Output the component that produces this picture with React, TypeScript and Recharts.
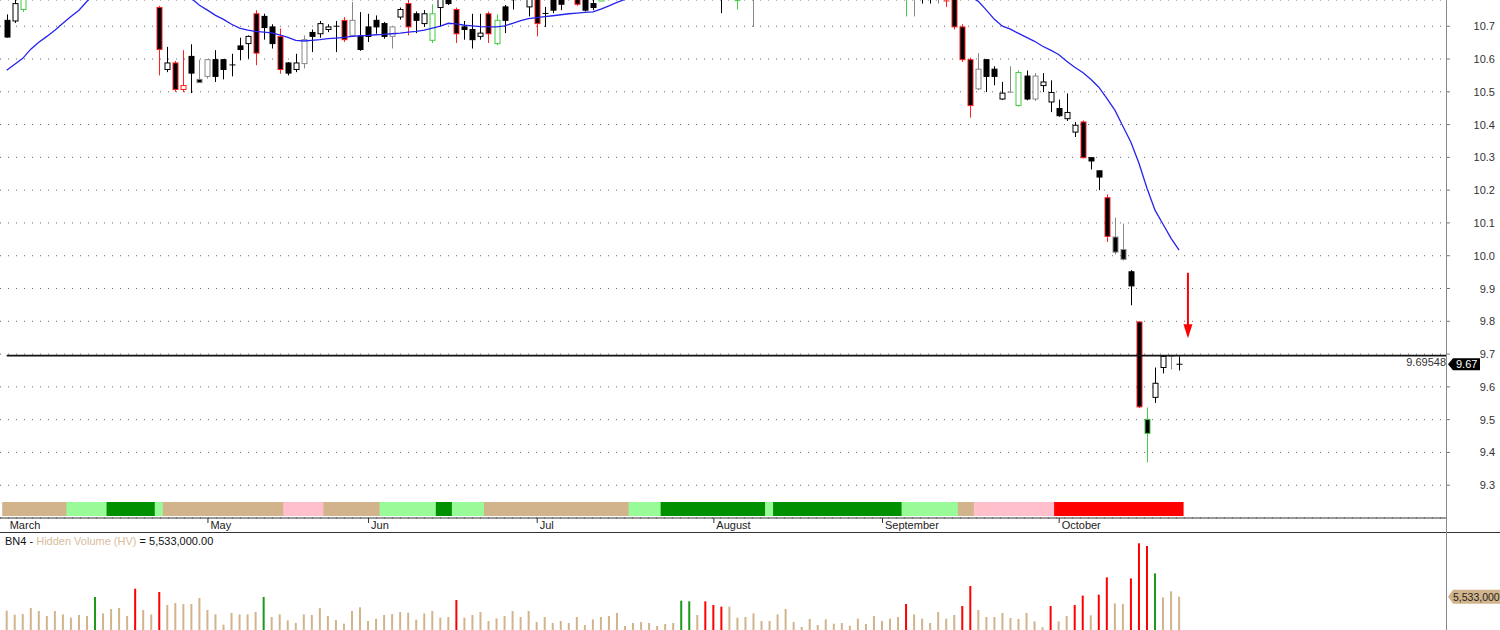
import React from "react";
import {
  Bar,
  CartesianGrid,
  ComposedChart,
  Line,
  ReferenceDot,
  ReferenceLine,
  XAxis,
  YAxis,
} from "recharts";

// daily bars, index 0 = first bar on the left
const opens = [
  10.718, 10.716, 10.751, 10.8, 10.85, 10.88, 10.86, 10.91, 10.94, 10.92,
  10.9, 10.96, 11.0, 10.97, 10.93, 10.95, 10.91, 10.85, 10.83, 10.757,
  10.568, 10.588, 10.507, 10.608, 10.538, 10.547, 10.598, 10.598, 10.582, 10.64,
  10.647, 10.738, 10.73, 10.698, 10.669, 10.588, 10.568, 10.586, 10.681, 10.677,
  10.69, 10.7, 10.718, 10.672, 10.669, 10.698, 10.718, 10.708, 10.669, 10.728,
  10.769, 10.738, 10.708, 10.657, 10.757, 10.8, 10.751, 10.698, 10.69, 10.669,
  10.738, 10.647, 10.759, 10.79, 10.8, 10.759, 10.8, 10.739, 10.79, 10.8,
  10.8, 10.81, 10.8, 10.769, 10.777, 10.81, 10.85, 10.87, 10.9, 10.88,
  10.92, 10.94, 10.93, 10.96, 10.98, 11.03, 11.06, 11.02, 10.92, 10.84,
  10.8, 10.776, 10.8, 10.85, 10.88, 10.92, 10.9, 10.95, 10.99, 11.0,
  10.98, 11.02, 11.03, 11.01, 11.04, 11.05, 11.03, 11.0, 10.97, 10.95,
  10.92, 10.9, 10.86, 10.82, 10.84, 10.8, 10.81, 10.777, 10.8, 10.698,
  10.598, 10.509, 10.598, 10.569, 10.478, 10.498, 10.458, 10.548, 10.478, 10.519,
  10.469, 10.449, 10.418, 10.377, 10.408, 10.299, 10.259, 10.177, 10.057, 10.019,
  9.951, 9.798, 9.501, 9.568, 9.659, 9.693, 9.668,
];
const highs = [
  10.736, 10.79, 10.83, 10.86, 10.9, 10.92, 10.93, 10.96, 10.97, 10.95,
  10.98, 11.02, 11.03, 10.99, 10.96, 10.97, 10.93, 10.88, 10.86, 10.762,
  10.637, 10.594, 10.627, 10.645, 10.598, 10.6, 10.627, 10.6, 10.616, 10.665,
  10.672, 10.749, 10.738, 10.706, 10.693, 10.59, 10.616, 10.672, 10.69, 10.716,
  10.706, 10.716, 10.728, 10.774, 10.743, 10.738, 10.733, 10.713, 10.7, 10.757,
  10.79, 10.745, 10.749, 10.767, 10.8, 10.81, 10.757, 10.716, 10.738, 10.738,
  10.745, 10.736, 10.765, 10.81, 10.84, 10.82, 10.82, 10.759, 10.8, 10.81,
  10.85, 10.82, 10.81, 10.79, 10.82, 10.86, 10.89, 10.92, 10.94, 10.93,
  10.96, 10.98, 10.97, 11.0, 11.05, 11.08, 11.08, 11.03, 10.94, 10.86,
  10.88, 10.82, 10.87, 10.9, 10.93, 10.95, 10.96, 11.01, 11.02, 11.03,
  11.04, 11.05, 11.06, 11.05, 11.07, 11.08, 11.06, 11.03, 11.0, 10.98,
  10.95, 10.92, 10.88, 10.86, 10.86, 10.83, 10.83, 10.79, 10.82, 10.706,
  10.604, 10.618, 10.6, 10.578, 10.53, 10.578, 10.565, 10.565, 10.557, 10.557,
  10.535, 10.476, 10.495, 10.408, 10.413, 10.3, 10.26, 10.187, 10.116, 10.098,
  9.956, 9.8, 9.537, 9.659, 9.695, 9.698, 9.693,
];
const lows = [
  10.665, 10.71, 10.743, 10.79, 10.83, 10.85, 10.84, 10.88, 10.9, 10.88,
  10.89, 10.94, 10.95, 10.92, 10.89, 10.9, 10.84, 10.81, 10.79, 10.55,
  10.56, 10.5, 10.499, 10.496, 10.527, 10.54, 10.53, 10.538, 10.547, 10.596,
  10.601, 10.581, 10.659, 10.632, 10.555, 10.55, 10.56, 10.571, 10.621, 10.665,
  10.682, 10.621, 10.652, 10.67, 10.625, 10.652, 10.677, 10.662, 10.632, 10.72,
  10.672, 10.679, 10.698, 10.649, 10.7, 10.765, 10.649, 10.659, 10.632, 10.659,
  10.649, 10.642, 10.679, 10.751, 10.785, 10.73, 10.669, 10.698, 10.74, 10.749,
  10.79, 10.762, 10.745, 10.749, 10.776, 10.8, 10.83, 10.85, 10.87, 10.86,
  10.89, 10.91, 10.9, 10.93, 10.96, 11.0, 11.0, 10.9, 10.82, 10.74,
  10.79, 10.751, 10.79, 10.698, 10.86, 10.88, 10.89, 10.93, 10.96, 10.97,
  10.96, 10.99, 11.0, 10.98, 11.01, 11.02, 10.99, 10.96, 10.93, 10.91,
  10.88, 10.85, 10.73, 10.73, 10.769, 10.769, 10.769, 10.759, 10.69, 10.591,
  10.421, 10.505, 10.499, 10.52, 10.475, 10.497, 10.455, 10.474, 10.472, 10.499,
  10.438, 10.424, 10.411, 10.362, 10.297, 10.263, 10.2, 10.042, 10.004, 9.985,
  9.849, 9.535, 9.37, 9.551, 9.641, 9.653, 9.65,
];
const closes = [
  10.667, 10.769, 10.8, 10.85, 10.88, 10.86, 10.91, 10.94, 10.92, 10.9,
  10.96, 11.0, 10.97, 10.93, 10.95, 10.91, 10.85, 10.83, 10.8, 10.629,
  10.588, 10.507, 10.519, 10.557, 10.528, 10.598, 10.547, 10.568, 10.58, 10.629,
  10.669, 10.618, 10.696, 10.647, 10.568, 10.557, 10.588, 10.659, 10.669, 10.708,
  10.698, 10.699, 10.659, 10.718, 10.629, 10.669, 10.698, 10.669, 10.698, 10.751,
  10.698, 10.718, 10.738, 10.738, 10.785, 10.769, 10.677, 10.69, 10.659, 10.679,
  10.677, 10.718, 10.718, 10.781, 10.83, 10.79, 10.708, 10.738, 10.749, 10.767,
  10.84, 10.767, 10.749, 10.757, 10.81, 10.85, 10.87, 10.9, 10.88, 10.92,
  10.94, 10.93, 10.96, 10.98, 11.03, 11.06, 11.02, 10.92, 10.84, 10.8,
  10.86, 10.778, 10.85, 10.88, 10.92, 10.9, 10.95, 10.99, 11.0, 10.98,
  11.02, 11.03, 11.01, 11.04, 11.05, 11.03, 11.0, 10.97, 10.95, 10.92,
  10.9, 10.86, 10.82, 10.84, 10.8, 10.81, 10.82, 10.776, 10.698, 10.598,
  10.458, 10.569, 10.547, 10.547, 10.496, 10.499, 10.559, 10.478, 10.548, 10.53,
  10.498, 10.427, 10.437, 10.398, 10.299, 10.289, 10.24, 10.059, 10.011, 9.989,
  9.908, 9.539, 9.458, 9.611, 9.693, 9.694, 9.669,
];
const movingAverage = [
  10.566, 10.584, 10.602, 10.63, 10.651, 10.669, 10.688, 10.709, 10.73, 10.749,
  10.776, 10.8, 10.82, 10.84, 10.855, 10.865, 10.87, 10.865, 10.855, 10.84,
  10.82, 10.8, 10.79, 10.785, 10.764, 10.749, 10.733, 10.721, 10.706, 10.694,
  10.688, 10.684, 10.682, 10.68, 10.674, 10.666, 10.657, 10.655, 10.657, 10.659,
  10.662, 10.664, 10.666, 10.669, 10.671, 10.672, 10.674, 10.675, 10.677, 10.679,
  10.682, 10.684, 10.688, 10.694, 10.7, 10.709, 10.707, 10.703, 10.701, 10.699,
  10.698, 10.698, 10.701, 10.709, 10.717, 10.723, 10.726, 10.729, 10.732, 10.735,
  10.738, 10.74, 10.742, 10.744, 10.752, 10.762, 10.773, 10.782, 10.79, 10.8,
  10.815, 10.83, 10.845, 10.86, 10.875, 10.89, 10.9, 10.905, 10.905, 10.9,
  10.9, 10.895, 10.895, 10.895, 10.9, 10.905, 10.91, 10.92, 10.93, 10.94,
  10.95, 10.96, 10.965, 10.97, 10.975, 10.98, 10.98, 10.975, 10.965, 10.955,
  10.94, 10.925, 10.91, 10.895, 10.88, 10.865, 10.85, 10.835, 10.82, 10.8,
  10.79, 10.776, 10.749, 10.721, 10.7, 10.691, 10.678, 10.666, 10.654, 10.639,
  10.627, 10.614, 10.593, 10.575, 10.559, 10.538, 10.514, 10.48, 10.444, 10.395,
  10.346, 10.282, 10.206, 10.139, 10.096, 10.053, 10.017,
];
// hidden volume, millions
const volumes = [
  4.08, 3.66, 3.73, 4.36, 4.05, 3.53, 4.05, 3.7, 3.35, 3.63,
  3.53, 5.5, 3.8, 4.25, 4.36, 3.53, 6.36, 4.15, 3.7, 6.02,
  4.67, 4.88, 4.77, 4.77, 5.39, 4.15, 3.7, 2.63, 3.84, 3.7,
  3.7, 3.94, 5.5, 3.42, 3.7, 3.08, 2.8, 3.7, 3.63, 4.36,
  3.53, 3.11, 2.73, 4.05, 4.43, 3.01, 3.25, 3.63, 3.73, 3.94,
  3.87, 3.15, 3.8, 4.05, 3.35, 3.42, 5.19, 3.35, 3.63, 3.94,
  3.01, 3.28, 3.53, 4.05, 3.42, 4.05, 2.9, 3.42, 2.8, 3.01,
  2.8, 3.42, 2.59, 3.18, 3.42, 3.53, 3.84, 2.49, 2.8, 2.9,
  2.8, 2.49, 2.7, 2.8, 5.12, 5.05, 3.63, 5.05, 4.67, 4.5,
  4.5, 3.35, 3.42, 3.8, 3.01, 3.01, 3.7, 4.25, 2.9, 2.39,
  3.22, 2.59, 3.18, 2.73, 2.8, 2.52, 3.25, 2.7, 3.53, 3.01,
  3.25, 3.42, 4.77, 3.7, 3.25, 2.8, 3.94, 3.25, 3.63, 4.56,
  6.64, 4.15, 3.42, 3.42, 3.84, 3.32, 3.22, 3.84, 2.97, 2.35,
  4.56, 2.97, 3.53, 4.67, 5.64, 3.6, 5.74, 7.54, 4.84, 4.77,
  7.43, 11.07, 10.79, 7.95, 5.46, 6.09, 5.533,
];
const redVolumeBars = [16, 19, 56, 87, 88, 89, 112, 119, 120, 130, 133, 134, 136, 137, 140, 141, 142];
const greenVolumeBars = [11, 32, 84, 85, 143];

const redEdgeBars = [16, 19, 21, 22, 31, 34, 42, 50, 56, 60, 66, 71, 87, 88, 117, 118, 119, 120, 134, 137, 141];
const greenEdgeBars = [2, 11, 53, 61, 74, 84, 85, 91, 112, 126, 142];
const grayEdgeBars = [24, 25, 37, 43, 48, 93, 113, 116, 121, 125, 128, 138, 139, 145];

const bandStates = ["tan", "light", "dark", "light", "tan", "pink", "tan", "light", "dark", "light", "tan", "light", "dark", "light", "dark", "light", "tan", "pink", "red"];
const bandLengths = [8, 5, 6, 1, 15, 5, 7, 7, 2, 4, 18, 4, 13, 1, 16, 7, 2, 10, 16];

const monthTicks = [0, 25, 45, 66, 88, 109, 131];
const monthNames = ["March", "May", "Jun", "Jul", "August", "September", "October"];
const priceTicks = [9.3, 9.4, 9.5, 9.6, 9.7, 9.8, 9.9, 10.0, 10.1, 10.2, 10.3, 10.4, 10.5, 10.6, 10.7];

const markerLevel = 9.69548;
const arrowBar = 147.1;
const arrowFrom = 9.948;
const arrowTip = 9.748;

const FONT = "'Liberation Sans', Arial, sans-serif";
const X_DOMAIN: [number, number] = [-0.834, 179.36];
const BAND_COLORS: Record<string, string> = {
  tan: "#d2b48c",
  light: "#98fb98",
  dark: "#009000",
  pink: "#ffc0cb",
  red: "#ff0000",
};

const edgeOf = (i: number) =>
  redEdgeBars.includes(i) ? "#ff2020" : greenEdgeBars.includes(i) ? "#44cc44" : grayEdgeBars.includes(i) ? "#888888" : "#000000";

const candles = opens.map((open, i) => ({
  i,
  open,
  high: highs[i],
  low: lows[i],
  close: closes[i],
  ma: movingAverage[i],
  edge: edgeOf(i),
}));

const volumeRows = volumes.map((vol, i) => ({
  i,
  vol,
  color: redVolumeBars.includes(i) ? "#ff0000" : greenVolumeBars.includes(i) ? "#1a9a1a" : "#d2b48c",
}));

const bandRows = bandStates
  .flatMap((s, n) => Array.from({ length: bandLengths[n] }, () => BAND_COLORS[s]))
  .map((color, i) => ({ i, one: 1, color }));

const lastClose = closes[closes.length - 1];
const lastVolume = volumes[volumes.length - 1];

function Candle(props: any) {
  const { x, y, width, height, payload } = props;
  const { open, close, high, low, edge } = payload;
  const top = height >= 0 ? y : y + height;
  const h = Math.abs(height);
  const k = h / (high - low);
  const yo = top + (high - open) * k;
  const yc = top + (high - close) * k;
  const cx = Math.round(x + width / 2) + 0.5;
  const bTop = Math.min(yo, yc);
  const bBot = Math.max(yo, yc);
  return (
    <g>
      <line x1={cx} x2={cx} y1={top} y2={top + h} stroke={edge} strokeWidth={1} />
      {bBot - bTop < 1.5 ? (
        <line x1={cx - 3} x2={cx + 3} y1={bTop} y2={bTop} stroke={edge} />
      ) : (
        <rect x={cx - 2.5} y={bTop} width={5} height={bBot - bTop} fill={close < open ? "#000" : "#fff"} stroke={edge} />
      )}
    </g>
  );
}

function BandCell(props: any) {
  const { x, y, width, height, payload } = props;
  return <rect x={x - 0.5} y={y} width={width + 1} height={height} fill={payload.color} />;
}

function VolumeBar(props: any) {
  const { x, y, width, height, payload } = props;
  return <rect x={x} y={y} width={width} height={height} fill={payload.color} />;
}

function PriceTick({ x, y, payload }: any) {
  return (
    <text x={x + 43} y={y + 4} textAnchor="end" fontSize={11} fill="#333" fontFamily={FONT}>
      {payload.value.toFixed(1)}
    </text>
  );
}

function MonthTick({ x, y, payload }: any) {
  const idx = monthTicks.indexOf(payload.value);
  return (
    <g>
      {idx > 0 && <line x1={x + 0.5} x2={x + 0.5} y1={y} y2={y + 5} stroke="#333" />}
      <text x={x + 3} y={y + 11} fontSize={11} fill="#222" fontFamily={FONT}>
        {monthNames[idx]}
      </text>
    </g>
  );
}

function LevelLabel(props: any) {
  const { viewBox } = props;
  if (!viewBox) return null;
  return (
    <text x={viewBox.x + viewBox.width - 1} y={viewBox.y + 10} textAnchor="end" fontSize={11} fill="#333" fontFamily={FONT}>
      {markerLevel.toFixed(5)}
    </text>
  );
}

function PriceTag({ cx, cy }: any) {
  return (
    <g>
      <path d={`M${cx + 1} ${cy} L${cx + 6} ${cy - 6} L${cx + 33} ${cy - 6} L${cx + 33} ${cy + 6} L${cx + 6} ${cy + 6} Z`} fill="#000" />
      <text x={cx + 9} y={cy + 4} fontSize={11} fill="#fff" fontFamily={FONT}>
        {lastClose.toFixed(2)}
      </text>
    </g>
  );
}

function VolumeTag({ cx, cy }: any) {
  return (
    <g>
      <path d={`M${cx + 1} ${cy} L${cx + 6} ${cy - 7} L${cx + 56} ${cy - 7} L${cx + 56} ${cy + 7} L${cx + 6} ${cy + 7} Z`} fill="#d2b48c" />
      <text x={cx + 6} y={cy + 4} fontSize={10.5} fill="#222" fontFamily={FONT}>
        {(lastVolume * 1e6).toLocaleString("en-US", { maximumFractionDigits: 0 })}
      </text>
    </g>
  );
}

function ArrowHead({ cx, cy }: any) {
  return <path d={`M${cx} ${cy} L${cx - 4.5} ${cy - 14} L${cx + 4.5} ${cy - 14} Z`} fill="#ff0000" />;
}

export default function App() {
  return (
    <div style={{ position: "absolute", left: 0, top: 0, width: 1500, height: 630, overflow: "hidden", background: "#fff", fontFamily: FONT }}>
      <div style={{ position: "absolute", left: 0, top: 0 }}>
        <ComposedChart width={1500} height={533} data={candles} margin={{ top: 0, right: 0, bottom: 0, left: 0 }}>
          <CartesianGrid vertical={false} horizontal stroke="#666" strokeDasharray="1 7" />
          <XAxis
            dataKey="i"
            type="number"
            domain={X_DOMAIN}
            allowDataOverflow
            ticks={monthTicks}
            interval={0}
            tick={<MonthTick />}
            tickLine={false}
            tickSize={0}
            tickMargin={0}
            height={15}
            axisLine={{ stroke: "#333" }}
          />
          <YAxis
            orientation="right"
            width={53}
            type="number"
            domain={[9.2, 10.78]}
            allowDataOverflow
            ticks={priceTicks}
            interval={0}
            axisLine={false}
            tickLine={{ stroke: "#777" }}
            tickSize={3}
            tick={<PriceTick />}
          />
          <Bar dataKey={(d: any) => [d.low, d.high]} barSize={6} shape={<Candle />} activeBar={false} isAnimationActive={false} />
          <Line dataKey="ma" type="linear" stroke="#2424ee" strokeWidth={1.3} dot={false} activeDot={false} isAnimationActive={false} />
          <ReferenceLine
            segment={[
              { x: 0, y: markerLevel },
              { x: X_DOMAIN[1], y: markerLevel },
            ]}
            stroke="#111"
            strokeWidth={1.8}
            label={<LevelLabel />}
          />
          <ReferenceLine
            segment={[
              { x: arrowBar, y: arrowFrom },
              { x: arrowBar, y: arrowTip + 0.04 },
            ]}
            stroke="#ff0000"
            strokeWidth={2}
          />
          <ReferenceDot x={arrowBar} y={arrowTip} shape={<ArrowHead />} />
          <ReferenceDot x={X_DOMAIN[1]} y={lastClose} ifOverflow="visible" shape={<PriceTag />} />
        </ComposedChart>
      </div>
      <div style={{ position: "absolute", left: 0, top: 502 }}>
        <ComposedChart width={1500} height={14} data={bandRows} margin={{ top: 0, right: 53, bottom: 0, left: 0 }}>
          <XAxis dataKey="i" type="number" domain={X_DOMAIN} allowDataOverflow hide />
          <YAxis domain={[0, 1]} hide />
          <Bar dataKey="one" barSize={8} shape={<BandCell />} activeBar={false} isAnimationActive={false} />
        </ComposedChart>
      </div>
      <div style={{ position: "absolute", left: 0, top: 532, width: 1500, height: 1, background: "#333" }} />
      <div style={{ position: "absolute", left: 0, top: 533 }}>
        <ComposedChart width={1500} height={117} data={volumeRows} margin={{ top: 5, right: 53, bottom: 0, left: 0 }}>
          <XAxis dataKey="i" type="number" domain={X_DOMAIN} allowDataOverflow hide />
          <YAxis domain={[0, 11.62]} hide />
          <Bar dataKey="vol" barSize={2} shape={<VolumeBar />} activeBar={false} isAnimationActive={false} />
          <ReferenceDot x={X_DOMAIN[1]} y={lastVolume} ifOverflow="visible" shape={<VolumeTag />} />
        </ComposedChart>
      </div>
      <div style={{ position: "absolute", left: 1446, top: 0, width: 1, height: 630, background: "#888" }} />
      <div style={{ position: "absolute", left: 5, top: 535, fontSize: 11, color: "#111", whiteSpace: "nowrap" }}>
        BN4 - <span style={{ color: "#d8bc9c" }}>Hidden Volume (HV)</span> ={" "}
        {(lastVolume * 1e6).toLocaleString("en-US", { minimumFractionDigits: 2, maximumFractionDigits: 2 })}
      </div>
    </div>
  );
}
